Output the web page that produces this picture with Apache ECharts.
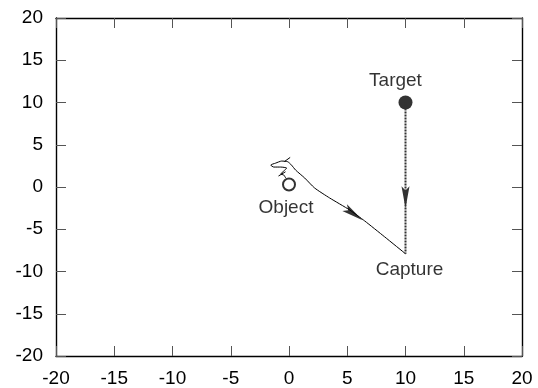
<!DOCTYPE html>
<html><head><meta charset="utf-8">
<script src="https://cdn.jsdelivr.net/npm/echarts@6/dist/echarts.min.js"></script>
<style>html,body{margin:0;padding:0;background:#fff}#c{width:538px;height:388px}</style>
</head><body><div id="c"></div>
<script>
var ticks = [-20,-15,-10,-5,0,5,10,15,20];
var targetPt = [[10, 10]];
var objectPt = [[0, 0.3]];
var capturePt = [[10, -7.9]];
var approachPath = [[10, 10], [10, -7.9]];
var handPath = [
  [-0.28, 1.06], [-0.45, 1.42], [-0.71, 1.53], [-0.45, 1.89], [-0.2, 2.24],
  [-0.71, 2.36], [-1.31, 2.36], [-1.57, 2.6], [-1.14, 2.83], [-0.63, 3.07],
  [-0.11, 2.99], [0.21, 2.6], [0.57, 2.0], [1.35, 1.06], [2.2, -0.12],
  [3.49, -1.3], [5.21, -2.72], [6.49, -4.01], [8.21, -5.9], [10, -7.9]
];
var markA = [[-0.4, 3.0], [0.1, 3.5]];
var markB = [[-0.9, 1.3], [-0.3, 1.8]];
var arrowDown = [[10, -1.2]];
var arrowDiag = [[5.55, -3.19]];

var font = 'Liberation Sans, Arial, Helvetica, sans-serif';
function axis(pos, show) {
  return {
    type: 'value', position: pos, min: -20, max: 20, interval: 5,
    axisLine: {show: true, onZero: false, lineStyle: {color: '#000', width: 1.4}},
    axisTick: {show: true, inside: true, length: 10, lineStyle: {color: '#555', width: 1}},
    axisLabel: {show: show, color: '#000', fontSize: 19, fontFamily: font, margin: 13},
    splitLine: {show: false}
  };
}
var arrowSym = 'path://M0,0 L5,20 L0,16 L-5,20 Z';
var chart = echarts.init(document.getElementById('c'), null, {renderer: 'canvas'});
chart.setOption({
  animation: false,
  grid: {left: 56, right: 16, top: 18, bottom: 32},
  xAxis: [axis('bottom', true), axis('top', false)],
  yAxis: [axis('left', true), axis('right', false)],
  series: [
    {type: 'line', data: approachPath, symbol: 'none', lineStyle: {color: '#333', width: 2, type: [2, 1]}},
    {type: 'line', data: handPath, symbol: 'none', smooth: 0.2, lineStyle: {color: '#000', width: 1}},
    {type: 'line', data: markA, symbol: 'none', lineStyle: {color: '#000', width: 1}},
    {type: 'line', data: markB, symbol: 'none', lineStyle: {color: '#000', width: 1}},
    {type: 'scatter', data: targetPt, symbol: 'circle', symbolSize: 14, itemStyle: {color: '#000'},
     label: {show: true, formatter: 'Target', position: 'top', distance: 5, offset: [-10, 0], color: '#000', fontSize: 19, fontFamily: font}},
    {type: 'scatter', data: objectPt, symbol: 'emptyCircle', symbolSize: 12, itemStyle: {color: '#000', borderWidth: 1},
     label: {show: true, formatter: 'Object', position: 'bottom', distance: 7, offset: [-3, 0], color: '#000', fontSize: 19, fontFamily: font}},
    {type: 'scatter', data: capturePt, symbol: 'circle', symbolSize: 1, itemStyle: {color: 'rgba(0,0,0,0)'},
     label: {show: true, formatter: 'Capture', position: 'bottom', distance: 6, offset: [4, 0], color: '#000', fontSize: 19, fontFamily: font}},
    {type: 'scatter', data: arrowDown, symbol: arrowSym, symbolSize: [8, 22], symbolRotate: 180, itemStyle: {color: '#000'}},
    {type: 'scatter', data: arrowDiag, symbol: arrowSym, symbolSize: [8, 22], symbolRotate: -125, itemStyle: {color: '#000'}}
  ]
});
</script></body></html>
